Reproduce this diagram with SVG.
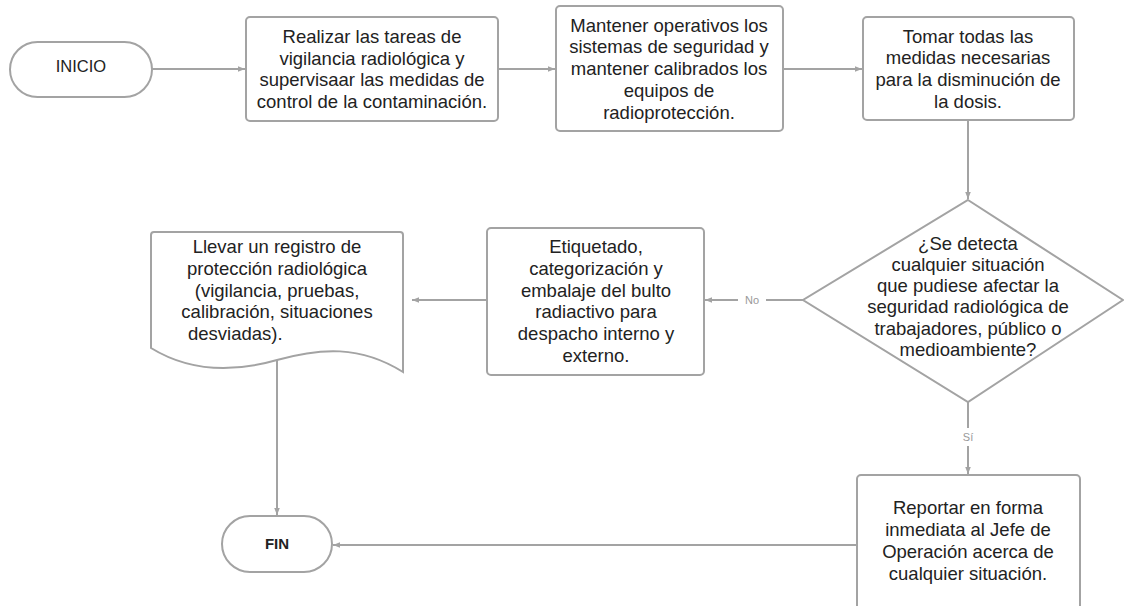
<svg xmlns="http://www.w3.org/2000/svg" width="1124" height="606" viewBox="0 0 1124 606">
<defs>
<style>
.shape{fill:#fff;stroke:#a3a3a3;stroke-width:2}
.t{font-family:"Liberation Sans",Arial,sans-serif;font-size:18.5px;fill:#222;text-anchor:middle}
.term{font-family:"Liberation Sans",Arial,sans-serif;font-size:16.5px;fill:#222;text-anchor:middle}
.conn{fill:none;stroke:#a3a3a3;stroke-width:2}
.lbl{font-family:"Liberation Sans",Arial,sans-serif;font-size:11px;fill:#999;text-anchor:middle}
</style>
<marker id="ah" viewBox="0 0 10 10" refX="10" refY="5" markerWidth="7" markerHeight="7" markerUnits="userSpaceOnUse" orient="auto">
<path d="M0,1 L10,5 L0,9 Z" fill="#a3a3a3"/>
</marker>
</defs>
<rect width="1124" height="606" fill="#fff"/>
<g id="connectors">
<line class="conn" x1="152" y1="69" x2="245" y2="69" marker-end="url(#ah)"/>
<line class="conn" x1="498" y1="69" x2="555" y2="69" marker-end="url(#ah)"/>
<line class="conn" x1="783" y1="69" x2="862" y2="69" marker-end="url(#ah)"/>
<line class="conn" x1="968" y1="121" x2="968" y2="199" marker-end="url(#ah)"/>
<line class="conn" x1="803" y1="300" x2="766" y2="300"/>
<line class="conn" x1="738" y1="300" x2="705" y2="300" marker-end="url(#ah)"/>
<text class="lbl" x="752" y="304">No</text>
<line class="conn" x1="487" y1="300" x2="412" y2="300" marker-end="url(#ah)"/>
<line class="conn" x1="968" y1="402" x2="968" y2="428"/>
<line class="conn" x1="968" y1="446" x2="968" y2="474" marker-end="url(#ah)"/>
<text class="lbl" x="968" y="441">Sí</text>
<line class="conn" x1="277" y1="360" x2="277" y2="515" marker-end="url(#ah)"/>
<line class="conn" x1="857" y1="545" x2="333" y2="545" marker-end="url(#ah)"/>
</g>
<g id="inicio">
<rect class="shape" x="10" y="42" width="142" height="55" rx="27.5"/>
<text class="term" x="81" y="72">INICIO</text>
</g>
<g id="n1">
<rect class="shape" x="246" y="17" width="252" height="104" rx="4"/>
<text class="t" x="372" y="43">Realizar las tareas de</text>
<text class="t" x="372" y="64.5">vigilancia radiológica y</text>
<text class="t" x="372" y="86">supervisaar las medidas de</text>
<text class="t" x="372" y="107.5">control de la contaminación.</text>
</g>
<g id="n2">
<rect class="shape" x="556" y="6" width="227" height="125" rx="4"/>
<text class="t" x="669" y="31.5">Mantener operativos los</text>
<text class="t" x="669" y="53">sistemas de seguridad y</text>
<text class="t" x="669" y="75">mantener calibrados los</text>
<text class="t" x="669" y="97">equipos de</text>
<text class="t" x="669" y="119">radioprotección.</text>
</g>
<g id="n3">
<rect class="shape" x="863" y="17" width="211" height="103" rx="4"/>
<text class="t" x="968" y="42.5">Tomar todas las</text>
<text class="t" x="968" y="64">medidas necesarias</text>
<text class="t" x="968" y="86">para la disminución de</text>
<text class="t" x="968" y="107.5">la dosis.</text>
</g>
<g id="decision">
<polygon class="shape" points="968,200 1123,300 968,402 803,300"/>
<text class="t" x="968" y="249.5">¿Se detecta</text>
<text class="t" x="968" y="270.5">cualquier situación</text>
<text class="t" x="968" y="291.5">que pudiese afectar la</text>
<text class="t" x="968" y="312.5">seguridad radiológica de</text>
<text class="t" x="968" y="334.5">trabajadores, público o</text>
<text class="t" x="968" y="355.5">medioambiente?</text>
</g>
<g id="n4">
<rect class="shape" x="487" y="228" width="217" height="147" rx="4"/>
<text class="t" x="596" y="252.5">Etiquetado,</text>
<text class="t" x="596" y="274.5">categorización y</text>
<text class="t" x="596" y="296.5">embalaje del bulto</text>
<text class="t" x="596" y="317.5">radiactivo para</text>
<text class="t" x="596" y="339.5">despacho interno y</text>
<text class="t" x="596" y="361.5">externo.</text>
</g>
<g id="registro">
<path class="shape" d="M151,348 L151,235 Q151,232 154,232 L400,232 Q403,232 403,235 L403,372 C360,345 320,348 277,360 C235,372 190,372 151,348 Z"/>
<text class="t" x="277" y="252.5">Llevar un registro de</text>
<text class="t" x="277" y="274.5">protección radiológica</text>
<text class="t" x="277" y="296.5">(vigilancia, pruebas,</text>
<text class="t" x="277" y="317.5">calibración, situaciones</text>
<text class="t" x="188" y="339.5" style="text-anchor:start">desviadas).</text>
</g>
<g id="fin">
<rect class="shape" x="222" y="516" width="110" height="56" rx="28"/>
<text class="term" x="277" y="549" style="font-size:15px;font-weight:bold">FIN</text>
</g>
<g id="n5">
<rect class="shape" x="857" y="475" width="223" height="140" rx="4"/>
<text class="t" x="968" y="513.5">Reportar en forma</text>
<text class="t" x="968" y="535.5">inmediata al Jefe de</text>
<text class="t" x="968" y="557.5">Operación acerca de</text>
<text class="t" x="968" y="579.5">cualquier situación.</text>
</g>
</svg>
